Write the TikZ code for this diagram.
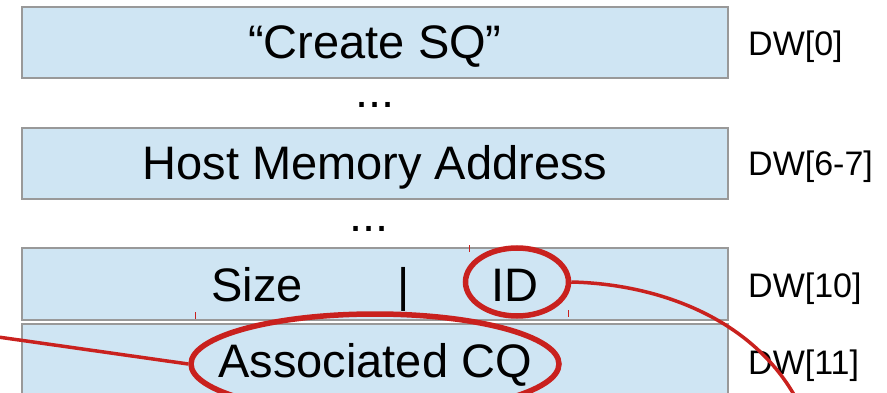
\documentclass[tikz,border=0pt]{standalone}
\usepackage{fontspec}
\setmainfont{Liberation Sans}
\usetikzlibrary{shapes.geometric}
\definecolor{boxfill}{HTML}{CFE5F3}
\definecolor{boxline}{HTML}{999999}
\definecolor{hl}{HTML}{C9211E}
\begin{document}
\begin{tikzpicture}[x=1pt,y=-1pt,
  field/.style={draw=boxline,line width=1.2pt,fill=boxfill,rectangle,minimum width=706pt,inner sep=0pt},
  big/.style={font=\fontsize{47}{56}\selectfont,inner sep=0pt,anchor=base},
  dwlab/.style={font=\fontsize{34}{40}\selectfont,anchor=base west,inner sep=0pt},
  ring/.style={draw=hl,ellipse,line width=5.5pt,inner sep=0pt},
  link/.style={draw=hl,line width=3.5pt},
  tick/.style={draw=hl,line width=0.8pt}]
\useasboundingbox (0,0) rectangle (887,393);
\begin{scope}
\clip (0,0) rectangle (887,393);
\node[field,minimum height=71pt] (b0) at (375,42.5) {};
\node[field,minimum height=71pt] (b6) at (375,163.5) {};
\node[field,minimum height=72pt] (b10) at (375,284) {};
\node[field,minimum height=80pt] (b11) at (375,364) {};

\node[big] (t0) at (375,59) {“Create SQ”};
\node[big] (d1) at (375,107.5) {...};
\node[big] (t6) at (375,180) {Host Memory Address};
\node[big] (d2) at (369,232) {...};
\node[big] (tsize) at (257,301.5) {Size};
\node[big] (tbar) at (404,301.5) {|};
\node[big] (tid) at (515,301.5) {ID};
\node[big] (tcq) at (375,377) {Associated CQ};

\node[dwlab] (l0) at (748,56) {DW[0]};
\node[dwlab] (l6) at (748,176) {DW[6-7]};
\node[dwlab] (l10) at (748,297) {DW[10]};
\node[dwlab] (l11) at (748,374) {DW[11]};

\node[ring,minimum width=103pt,minimum height=68pt] (eid) at (517,282) {};
\node[ring,minimum width=368pt,minimum height=100pt] (ecq) at (375,364) {};

\coordinate (lfree) at (-2,337);
\coordinate (rfree) at (802,410);
\draw[link] (lfree) -- (ecq.west);
\draw[link] (eid.east) .. controls (660,284) and (760,320) .. (rfree);

\draw[tick] (195,312) -- (195,319);
\draw[tick] (469,245) -- (469,252);
\draw[tick] (568,310) -- (568,317);
\end{scope}
\end{tikzpicture}
\end{document}
